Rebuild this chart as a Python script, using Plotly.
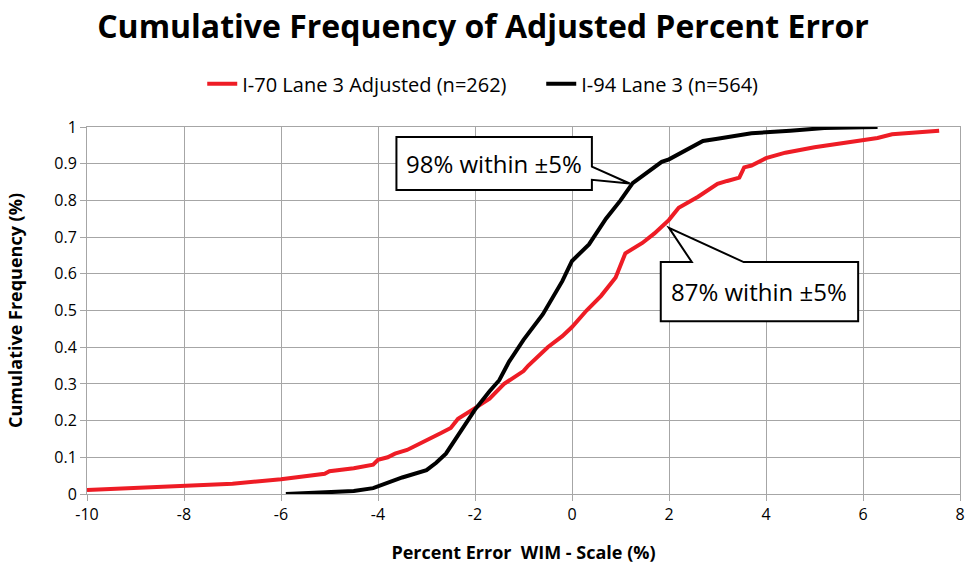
import plotly.graph_objects as go

# Data
i70_x = [-10, -9, -8, -7, -6, -5.5, -5.1, -5.0, -4.5, -4.1, -4.0, -3.8, -3.65, -3.4, -3.0, -2.7, -2.5,
         -2.35, -2.0, -1.7, -1.4, -1.0, -0.9, -0.5, -0.2, 0.0, 0.3, 0.6, 0.9, 1.1, 1.45, 1.7, 2.0, 2.2,
         2.6, 3.0, 3.2, 3.45, 3.55, 3.7, 4.0, 4.4, 5.0, 5.5, 6.0, 6.3, 6.6, 7.0, 7.57]
i70_y = [0.011, 0.016, 0.021, 0.028, 0.04, 0.048, 0.055, 0.062, 0.07, 0.08, 0.093, 0.10, 0.11, 0.12,
         0.145, 0.166, 0.18, 0.205, 0.234, 0.26, 0.3, 0.335, 0.35, 0.4, 0.43, 0.455, 0.5, 0.54, 0.59,
         0.656, 0.684, 0.71, 0.747, 0.78, 0.81, 0.845, 0.853, 0.862, 0.89, 0.895, 0.915, 0.93, 0.945,
         0.955, 0.965, 0.97, 0.98, 0.985, 0.99]

i94_x = [-5.9, -5, -4.5, -4.1, -3.8, -3.5, -3.0, -2.8, -2.6, -2.3, -2.0, -1.7, -1.5, -1.3, -1.0, -0.6,
         -0.2, 0.0, 0.35, 0.7, 1.0, 1.25, 1.5, 1.85, 2.0, 2.4, 2.7, 3.0, 3.7, 4.5, 5.2, 6.0, 6.3]
i94_y = [0.0, 0.005, 0.008, 0.016, 0.03, 0.045, 0.065, 0.085, 0.11, 0.17, 0.23, 0.28, 0.31, 0.36, 0.42,
         0.49, 0.58, 0.635, 0.68, 0.75, 0.80, 0.847, 0.87, 0.905, 0.912, 0.94, 0.962, 0.968, 0.983, 0.99,
         0.997, 0.999, 1.0]

series_names = ["I-70 Lane 3 Adjusted (n=262)", "I-94 Lane 3 (n=564)"]
x_ticks = [-10, -8, -6, -4, -2, 0, 2, 4, 6, 8]
x_tick_text = ["-10", "-8", "-6", "-4", "-2", "0", "2", "4", "6", "8"]
y_ticks = [0, 0.1, 0.2, 0.3, 0.4, 0.5, 0.6, 0.7, 0.8, 0.9, 1]
y_tick_text = ["0", "0.1", "0.2", "0.3", "0.4", "0.5", "0.6", "0.7", "0.8", "0.9", "1"]
callouts = ["98% within ±5%", "87% within ±5%"]

FONT = "Open Sans"
GRID = "#a6a6a6"

fig = go.Figure()
fig.add_trace(go.Scatter(x=i70_x, y=i70_y, mode="lines", name=series_names[0],
                         line=dict(color="#ee1c25", width=4)))
fig.add_trace(go.Scatter(x=i94_x, y=i94_y, mode="lines", name=series_names[1],
                         line=dict(color="#000000", width=4)))

# Callout 1: box with wedge to the right
p1 = ("M -3.62,0.973 L 0.41,0.973 L 0.41,0.892 L 1.19,0.846 L 0.41,0.856 "
      "L 0.41,0.828 L -3.62,0.828 Z")
# Callout 2: box with wedge on the top
p2 = ("M 1.83,0.632 L 2.47,0.632 L 2.0,0.725 L 3.54,0.632 L 5.9,0.632 "
      "L 5.9,0.471 L 1.83,0.471 Z")
for p in (p1, p2):
    fig.add_shape(type="path", path=p, xref="x", yref="y",
                  line=dict(color="black", width=2), fillcolor="white", layer="above")

fig.add_annotation(x=-1.6, y=0.9, text=callouts[0], showarrow=False,
                   font=dict(family=FONT, size=24, color="black"))
fig.add_annotation(x=3.86, y=0.552, text=callouts[1], showarrow=False,
                   font=dict(family=FONT, size=24, color="black"))

fig.update_layout(
    width=966, height=569,
    paper_bgcolor="white", plot_bgcolor="white",
    margin=dict(l=87, r=6, t=127, b=75),
    title=dict(text="<b>Cumulative Frequency of Adjusted Percent Error</b>",
               x=0.5, xanchor="center", y=0.953, yanchor="middle",
               font=dict(family=FONT, size=32, color="black")),
    legend=dict(orientation="h", x=0.132, xanchor="left", y=1.118, yanchor="middle",
                font=dict(family=FONT, size=20, color="black"),
                entrywidth=294, tracegroupgap=0),
    xaxis=dict(range=[-10, 8], tickvals=x_ticks, ticktext=x_tick_text, showgrid=True,
               gridcolor=GRID, gridwidth=1, zeroline=False, showline=True, linecolor=GRID,
               mirror=True, ticks="outside", ticklen=6, tickcolor=GRID, automargin=False,
               tickfont=dict(family=FONT, size=16, color="black"),
               title=dict(text="<b>Percent Error  WIM - Scale (%)</b>", standoff=22,
                          font=dict(family=FONT, size=18, color="black"))),
    yaxis=dict(range=[0, 1], tickvals=y_ticks, ticktext=y_tick_text, showgrid=True,
               gridcolor=GRID, gridwidth=1, zeroline=False, showline=True,
               linecolor=GRID, mirror=True, ticks="outside", ticklen=6, automargin=False,
               tickcolor=GRID, tickfont=dict(family=FONT, size=16, color="black"),
               title=dict(text="<b>Cumulative Frequency (%)</b>", standoff=26,
                          font=dict(family=FONT, size=18, color="black"))),
)

# Remove the default page margin so the figure sits at the window's top-left corner.
fig.write_html("out.html", config={"displayModeBar": False},
               post_script="document.body.style.margin='0';document.body.style.overflow='hidden';")
